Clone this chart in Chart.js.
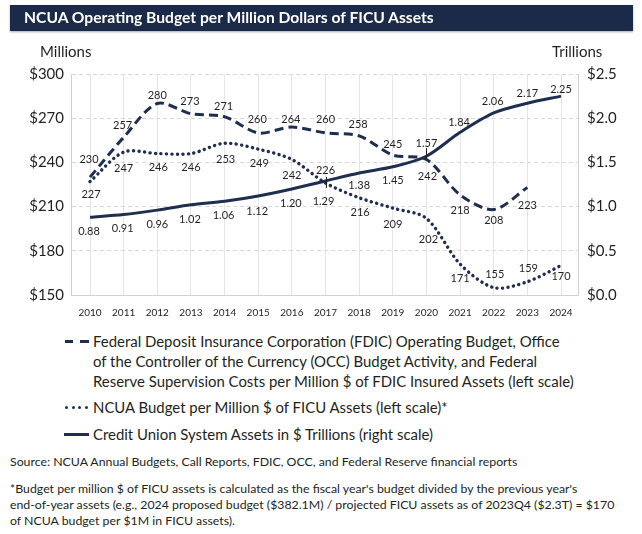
<!DOCTYPE html>
<html><head><meta charset="utf-8">
<script src="https://cdn.jsdelivr.net/npm/chart.js@4.4.1/dist/chart.umd.min.js"></script>
<style>
html,body{margin:0;padding:0}
body{width:642px;height:534px;position:relative;overflow:hidden;background:#fff;font-family:Lato,'Noto Sans',sans-serif;color:#231f20}
.t{position:absolute;white-space:nowrap;line-height:1;transform:translateY(-50%)}
#bar{position:absolute;left:10px;top:5px;width:623px;height:26px;background:#1c2a4a;box-shadow:0 1px 2px rgba(0,0,0,.35)}
#chartWrap{position:absolute;left:0;top:0;width:642px;height:330px}
.mk{position:absolute;background:#1f2d4f}
.dot{position:absolute;width:3.4px;height:3.4px;border-radius:50%;background:#1f2d4f}
</style></head><body>
<div id="chartWrap"><canvas id="c" width="642" height="330"></canvas></div>
<div id="bar"></div>
<div class="t" id="title" style="left:24px;top:18px;color:#fff;font-weight:700;font-size:16px">NCUA Operating Budget per Million Dollars of FICU Assets</div>
<div class="t" style="left:40px;top:51px;font-size:15px">Millions</div>
<div class="t" style="left:552px;top:51px;font-size:15px">Trillions</div>

<div class="mk" style="left:65px;top:340px;width:8px;height:3px"></div>
<div class="mk" style="left:80px;top:340px;width:9px;height:3px"></div>
<div class="t lg" style="left:93px;top:341px">Federal Deposit Insurance Corporation (FDIC) Operating Budget, Office</div>
<div class="t lg" style="left:93px;top:361px">of the Controller of the Currency (OCC) Budget Activity, and Federal</div>
<div class="t lg" id="lg3" style="left:93px;top:381px">Reserve Supervision Costs per Million $ of FDIC Insured Assets (left scale)</div>
<div class="dot" style="left:65px;top:405.5px"></div>
<div class="dot" style="left:71.5px;top:405.5px"></div>
<div class="dot" style="left:78px;top:405.5px"></div>
<div class="dot" style="left:84.5px;top:405.5px"></div>
<div class="t lg" style="left:93px;top:407px">NCUA Budget per Million $ of FICU Assets (left scale)*</div>
<div class="mk" style="left:64px;top:432.5px;width:25px;height:3px"></div>
<div class="t lg" style="left:93px;top:434px">Credit Union System Assets in $ Trillions (right scale)</div>

<div class="t fn" style="left:10px;top:462px">Source: NCUA Annual Budgets, Call Reports, FDIC, OCC, and Federal Reserve financial reports</div>
<div class="t fn" style="left:10px;top:489px">*Budget per million $ of FICU assets is calculated as the fiscal year's budget divided by the previous year's</div>
<div class="t fn" id="fn2" style="left:10px;top:505px">end-of-year assets (e.g., 2024 proposed budget ($382.1M) / projected FICU assets as of 2023Q4 ($2.3T) = $170</div>
<div class="t fn" style="left:10px;top:521px">of NCUA budget per $1M in FICU assets).</div>

<script>
// ---- data ----
const years = ['2010','2011','2012','2013','2014','2015','2016','2017','2018','2019','2020','2021','2022','2023','2024'];
const fdicBudget = [230,257,280,273,271,260,264,260,258,245,242,218,208,223];
const ncuaBudget = [227,247,246,246,253,249,242,226,216,209,202,171,155,159,170];
const cuAssets = [0.88,0.91,0.96,1.02,1.06,1.12,1.20,1.29,1.38,1.45,1.57,1.84,2.06,2.17,2.25];
const leftTicks = [150,180,210,240,270,300];
const rightTicks = [0,0.5,1,1.5,2,2.5];

// ---- label placement (style) ----
const labelOffsets = [
  [[-1,-18],[-1,-12],[0,-8],[-1,-12],[-1,-10],[-1,-13],[-1,-8],[0,-13],[-1,-11],[0,-11],[1,17],[0,16],[0,11],[0,18]],
  [[1,13],[0,16],[1,14],[0,14],[1,16],[1,14],[0,16],[0,-13],[1,15],[0,16],[2,21],[0,14],[1,-13],[1,-13],[0,11]],
  [[-1,14],[-1,14],[0,14],[-1,15],[-1,14],[-1,15],[-1,15],[-2,20],[0,12],[0,14],[0,-13],[-1,-10],[-1,-11],[0,-10],[0,-7]]
];
const leaders = [{ds:2,i:7,y1:-4,y2:7},{ds:2,i:10,y1:-8,y2:2}];

function fitTo(el, w){
  const r = el.getBoundingClientRect().width;
  const fs = parseFloat(getComputedStyle(el).fontSize);
  return fs * w / r;
}
const tEl = document.getElementById('title');
tEl.style.fontSize = fitTo(tEl, 410) + 'px';
const lgSize = fitTo(document.getElementById('lg3'), 481);
document.querySelectorAll('.lg').forEach(e => e.style.fontSize = lgSize + 'px');
document.querySelectorAll('.fn').forEach(e => e.style.fontSize = '12px');
const fnSize = fitTo(document.getElementById('fn2'), 605);
document.querySelectorAll('.fn').forEach(e => e.style.fontSize = fnSize + 'px');

const navy = '#1f2d4f';
const txt = '#231f20';

const labelPlugin = {
  id: 'vals',
  afterDatasetsDraw(chart){
    const ctx = chart.ctx;
    ctx.save();
    ctx.font = '11px Lato';
    ctx.fillStyle = txt;
    ctx.textAlign = 'center';
    ctx.textBaseline = 'middle';
    chart.data.datasets.forEach((ds, di) => {
      const meta = chart.getDatasetMeta(di);
      meta.data.forEach((pt, i) => {
        const v = ds.data[i].y;
        const o = labelOffsets[di][i];
        const s = di === 2 ? v.toFixed(2) : String(v);
        ctx.fillText(s, pt.x + o[0], pt.y + o[1]);
      });
    });
    ctx.strokeStyle = txt;
    ctx.lineWidth = 1;
    leaders.forEach(l => {
      const pt = chart.getDatasetMeta(l.ds).data[l.i];
      const x = Math.round(pt.x) + 0.5;
      ctx.beginPath();
      ctx.moveTo(x, pt.y + l.y1);
      ctx.lineTo(x, pt.y + l.y2);
      ctx.stroke();
    });
    ctx.restore();
  }
};

new Chart(document.getElementById('c'), {
  type: 'line',
  data: {
    datasets: [
      { label: 'FDIC/OCC/Fed', data: fdicBudget.map((v,i)=>({x:i,y:v})), yAxisID:'y',
        borderColor: navy, borderWidth: 3, borderDash: [9,5], pointRadius: 0, tension: 0.3, fill: false },
      { label: 'NCUA', data: ncuaBudget.map((v,i)=>({x:i,y:v})), yAxisID:'y',
        borderColor: navy, borderWidth: 3.4, borderDash: [0.1,5.4], borderCapStyle: 'round', pointRadius: 0, tension: 0.3, fill: false },
      { label: 'CU Assets', data: cuAssets.map((v,i)=>({x:i,y:v})), yAxisID:'y1',
        borderColor: navy, borderWidth: 3, pointRadius: 0, tension: 0.3, fill: false }
    ]
  },
  options: {
    responsive: false, animation: false, devicePixelRatio: 1,
    layout: { padding: { top: 74, left: 0, right: 0, bottom: 0 } },
    plugins: { legend: { display: false }, tooltip: { enabled: false } },
    scales: {
      x: {
        type: 'linear', min: -0.565, max: 14.505,
        afterBuildTicks: s => { s.ticks = years.map((_, i) => ({ value: i })); },
        ticks: { callback: v => years[v], font: { family: 'Lato', size: 10 }, color: txt, padding: 12, maxRotation: 0, autoSkip: false },
        grid: { color: '#e6e6e6', drawTicks: false, lineWidth: 1 },
        border: { color: '#d0d0d0', width: 1 },
        afterFit: s => { s.height = 35; }
      },
      y: {
        position: 'left', min: leftTicks[0], max: leftTicks[leftTicks.length-1],
        afterBuildTicks: s => { s.ticks = leftTicks.map(v => ({ value: v })); },
        ticks: { callback: v => '$' + v, font: { family: 'Lato', size: 15 }, color: txt, padding: 7 },
        grid: { color: '#d9d9d9', drawTicks: false },
        border: { color: '#d0d0d0', width: 1, dash: [4,3] },
        afterFit: s => { s.width = 71; }
      },
      y1: {
        position: 'right', min: rightTicks[0], max: rightTicks[rightTicks.length-1],
        afterBuildTicks: s => { s.ticks = rightTicks.map(v => ({ value: v })); },
        ticks: { callback: v => '$' + v.toFixed(1), font: { family: 'Lato', size: 15 }, color: txt, padding: 9 },
        grid: { drawOnChartArea: false, drawTicks: false },
        border: { color: '#d0d0d0', width: 1 },
        afterFit: s => { s.width = 64; }
      }
    }
  },
  plugins: [labelPlugin]
});
</script>
</body></html>
